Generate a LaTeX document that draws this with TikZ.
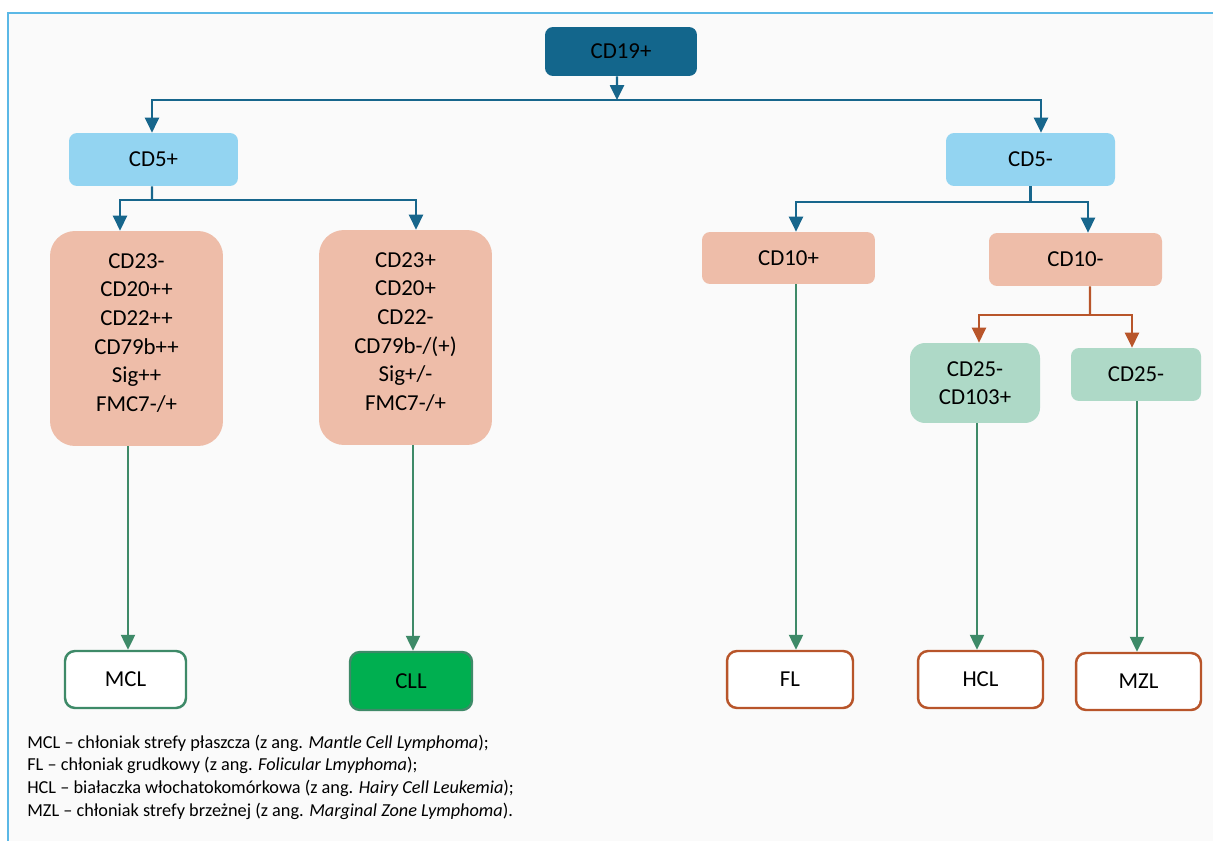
\documentclass[tikz,border=0pt]{standalone}
\usepackage{fontspec}
\setmainfont{Carlito}
\usetikzlibrary{arrows.meta}
\definecolor{frameblue}{HTML}{5BB8E6}
\definecolor{panelbg}{HTML}{FAFAFA}
\definecolor{darkblue}{HTML}{13668C}
\definecolor{lineblue}{HTML}{17668C}
\definecolor{lightblue}{HTML}{93D4F1}
\definecolor{salmon}{HTML}{EEBDA9}
\definecolor{mint}{HTML}{AED9C7}
\definecolor{gline}{HTML}{3E8A68}
\definecolor{rustc}{HTML}{B8552A}
\definecolor{cllgreen}{HTML}{00AF50}
\tikzset{
  nbox/.style={rounded corners=0.16cm, inner sep=0pt, align=center,
    font=\fontsize{13}{15.5}\selectfont, text=black},
  bigbox/.style={nbox, fill=salmon, rounded corners=0.5cm, minimum width=3.46cm, minimum height=4.3cm},
  bigtext/.style={inner sep=0pt, align=center, font=\fontsize{13}{16.3}\selectfont, text=black},
  leaf/.style={nbox, fill=white, line width=1.4pt, rounded corners=0.2cm, minimum height=1.14cm},
  bline/.style={draw=lineblue, line width=1.3pt},
  barr/.style={bline, -{Triangle[length=8.5pt,width=8pt]}},
  oline/.style={draw=rustc, line width=1.2pt},
  oarr/.style={oline, -{Triangle[length=8.5pt,width=8pt]}},
  garr/.style={draw=gline, line width=1.1pt, -{Triangle[length=8.5pt,width=8pt]}},
  legend/.style={anchor=base west, inner sep=0pt, font=\fontsize{10.4}{12}\selectfont}
}
\begin{document}
\begin{tikzpicture}[x=0.02cm,y=-0.02cm]
\useasboundingbox (0,0) rectangle (1213,841);
\fill[white] (0,0) rectangle (1213,841);
\fill[panelbg] (8,13) rectangle (1213,841);
\draw[frameblue, line width=1.3pt] (8,841) -- (8,13) -- (1213,13);

% nodes
\node[nbox, fill=darkblue, minimum width=3.04cm, minimum height=0.98cm] (cd19) at (621,51.5) {CD19+};
\node[nbox, fill=lightblue, minimum width=3.38cm, minimum height=1.06cm] (cd5p) at (153.5,159.5) {CD5+};
\node[nbox, fill=lightblue, minimum width=3.38cm, minimum height=1.06cm] (cd5m) at (1030.5,159.5) {CD5-};
\node[bigbox] (mbox) at (136.5,338.5) {};
\node[bigtext] (mtext) at (136.5,333) {CD23-\\CD20++\\CD22++\\CD79b++\\Sig++\\FMC7-/+};
\node[bigbox] (cbox) at (405.5,337.5) {};
\node[bigtext] (ctext) at (405.5,332) {CD23+\\CD20+\\CD22-\\CD79b-/(+)\\Sig+/-\\FMC7-/+};
\node[nbox, fill=salmon, minimum width=3.46cm, minimum height=1.04cm] (cd10p) at (788.5,258) {CD10+};
\node[nbox, fill=salmon, minimum width=3.46cm, minimum height=1.06cm] (cd10m) at (1075.5,259.5) {CD10-};
\node[nbox, fill=mint, rounded corners=0.3cm, minimum width=2.6cm, minimum height=1.6cm, font=\fontsize{13}{16.3}\selectfont] (cd25a) at (975,383) {CD25-\\CD103+};
\node[nbox, fill=mint, minimum width=2.6cm, minimum height=1.06cm] (cd25b) at (1136,374.5) {CD25-};

\node[leaf, draw=gline, minimum width=2.42cm] (mcl) at (125.5,679.5) {MCL};
\node[leaf, draw=gline, fill=cllgreen, minimum width=2.44cm, minimum height=1.16cm] (cll) at (411,681) {CLL};
\node[leaf, draw=rustc, minimum width=2.52cm] (fl) at (790,679.5) {FL};
\node[leaf, draw=rustc, minimum width=2.5cm] (hcl) at (980.5,679.5) {HCL};
\node[leaf, draw=rustc, minimum width=2.5cm] (mzl) at (1138.5,681.5) {MZL};

% connectors: CD19+
\coordinate (b0) at (617,100);
\draw[barr] ([xshift=-0.08cm]cd19.south) -- (b0);
\draw[barr] (b0) -| ([xshift=-0.03cm]cd5p.north);
\draw[barr] (b0) -| ([xshift=0.21cm]cd5m.north);

% CD5+
\coordinate (j1) at (152,200);
\draw[bline] ([xshift=-0.03cm]cd5p.south) -- (j1);
\draw[barr] (j1) -| ([xshift=-0.33cm]mbox.north);
\draw[barr] (j1) -| ([xshift=0.21cm]cbox.north);

% CD5-
\coordinate (j2) at (1030.5,202);
\draw[bline] (cd5m.south) -- (j2);
\draw[barr] (j2) -| ([xshift=0.15cm]cd10p.north);
\draw[barr] (j2) -| ([xshift=0.25cm]cd10m.north);

% CD10-
\coordinate (j3) at (1090,315);
\draw[oline] ([xshift=0.29cm]cd10m.south) -- (j3);
\draw[oarr] (j3) -| ([xshift=0.08cm]cd25a.north);
\draw[oarr] (j3) -| ([xshift=-0.08cm]cd25b.north);

% green lines to leaves
\coordinate (g1) at ([xshift=-0.17cm]mbox.south);
\draw[garr] (g1) -- (g1 |- mcl.north);
\coordinate (g2) at ([xshift=0.15cm]cbox.south);
\draw[garr] (g2) -- (g2 |- cll.north);
\coordinate (g3) at ([xshift=0.15cm]cd10p.south);
\draw[garr] (g3) -- (g3 |- fl.north);
\coordinate (g4) at ([xshift=0.04cm]cd25a.south);
\draw[garr] (g4) -- (g4 |- hcl.north);
\coordinate (g5) at ([xshift=0.02cm]cd25b.south);
\draw[garr] (g5) -- (g5 |- mzl.north);

% legend
\node[legend] (l1) at (27,748) {MCL – chłoniak strefy płaszcza (z ang. \textit{Mantle Cell Lymphoma});};
\node[legend] (l2) at (27,770.5) {FL – chłoniak grudkowy (z ang. \textit{Folicular Lmyphoma});};
\node[legend] (l3) at (27,793) {HCL – białaczka włochatokomórkowa (z ang. \textit{Hairy Cell Leukemia});};
\node[legend] (l4) at (27,816) {MZL – chłoniak strefy brzeżnej (z ang. \textit{Marginal Zone Lymphoma}).};
\end{tikzpicture}
\end{document}
